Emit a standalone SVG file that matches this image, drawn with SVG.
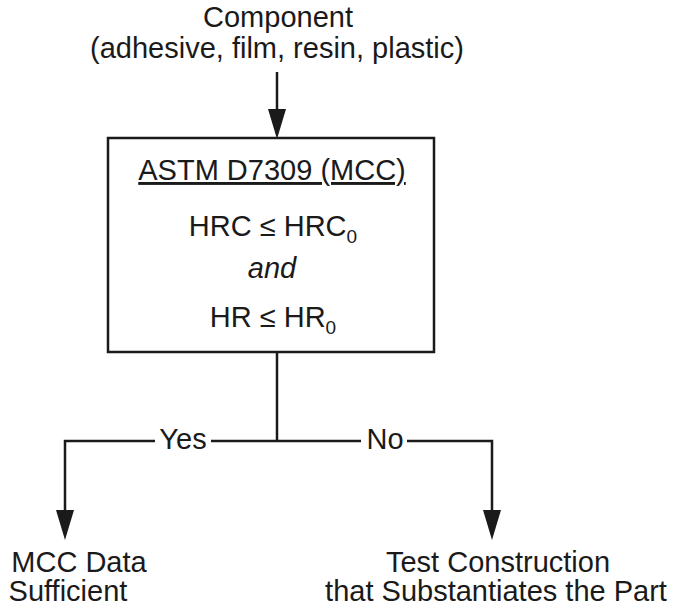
<svg xmlns="http://www.w3.org/2000/svg" width="677" height="607" viewBox="0 0 677 607">
<style>
text{font-family:"Liberation Sans",Arial,Helvetica,sans-serif;font-size:29px;fill:#1a1a1a;text-anchor:middle}
.ln{stroke:#1a1a1a;stroke-width:2.5;fill:none}
.sub{font-size:19px}
</style>
<defs>
<path id="ahd" d="M-9,-30 L9,-30 L0,0 Z" fill="#1a1a1a"/>
</defs>
<rect width="677" height="607" fill="#fff"/>
<g id="input">
<text x="278" y="27">Component</text>
<text x="277" y="58">(adhesive, film, resin, plastic)</text>
</g>
<g id="mcc">
<rect x="108" y="138" width="326" height="214" fill="#fff" stroke="#1a1a1a" stroke-width="2.5"/>
<text x="272" y="180" text-decoration="underline">ASTM D7309 (MCC)</text>
<text x="273" y="236">HRC ≤ HRC<tspan class="sub" dy="7">0</tspan></text>
<text x="272" y="278" font-style="italic">and</text>
<text x="273" y="327">HR ≤ HR<tspan class="sub" dy="7">0</tspan></text>
</g>
<g id="yes-result">
<text x="79" y="572">MCC Data</text>
<text x="68" y="601">Sufficient</text>
</g>
<g id="no-result">
<text x="498" y="572">Test Construction</text>
<text x="496" y="601">that Substantiates the Part</text>
</g>
<g id="connectors">
<line class="ln" x1="277" y1="72" x2="277" y2="115"/>
<use href="#ahd" x="277" y="139"/>
<line class="ln" x1="277" y1="352" x2="277" y2="441"/>
<polyline class="ln" points="155,441 65,441 65,515"/>
<line class="ln" x1="211" y1="441" x2="361" y2="441"/>
<polyline class="ln" points="407,441 492,441 492,515"/>
<use href="#ahd" x="65" y="540"/>
<use href="#ahd" x="492" y="540"/>
<text x="183" y="449">Yes</text>
<text x="385" y="449">No</text>
</g>
</svg>
